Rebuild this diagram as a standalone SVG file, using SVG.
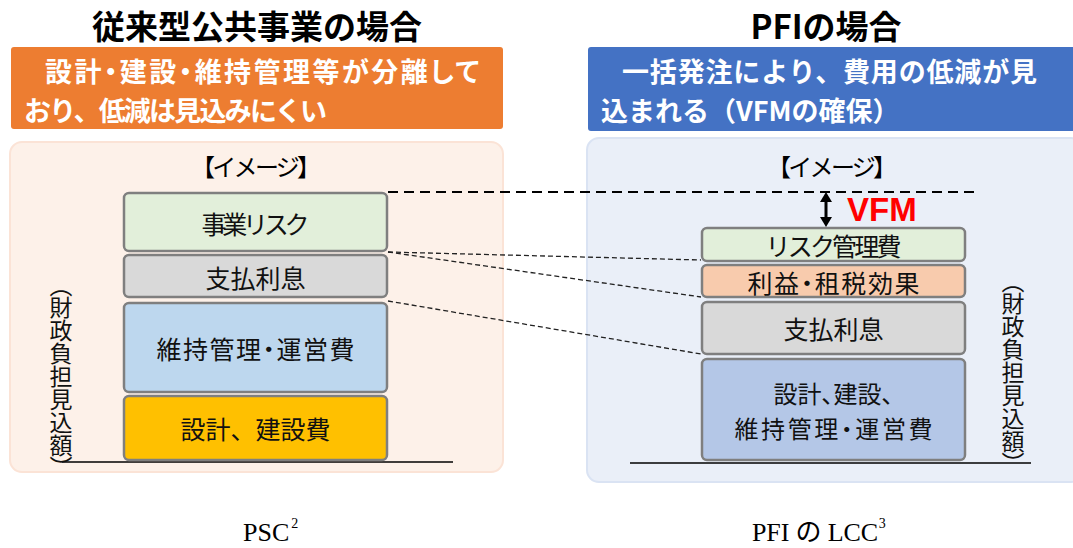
<svg xmlns="http://www.w3.org/2000/svg" width="1073" height="548" viewBox="0 0 1073 548">
  <style>
    .title { font-family: "Noto Sans CJK JP", sans-serif; font-size: 33px; font-weight: 700; fill: #000; }
    .head { font-family: "Noto Sans CJK JP", sans-serif; font-size: 27px; font-weight: 700; fill: #fff; }
    .img { font-family: "Noto Sans CJK JP", sans-serif; font-size: 24px; fill: #000; }
    .lbl { font-family: "Noto Sans CJK JP", sans-serif; font-size: 25px; fill: #111; }
    .palt { font-feature-settings: "palt"; }
    .vert { font-family: "Noto Sans CJK JP", sans-serif; font-size: 23px; fill: #111; writing-mode: vertical-rl; font-feature-settings: "vpal"; }
    .cap { font-family: "Liberation Serif", "Noto Sans CJK JP", serif; font-size: 26px; fill: #000; }
    .sup { font-size: 14px; }
    .box { stroke: #7F7F7F; stroke-width: 2.5; }
    .base { stroke: #000; stroke-width: 1.5; }
    .thin { stroke: #222; stroke-width: 1.3; stroke-dasharray: 5 3; fill: none; }
    .thick { stroke: #000; stroke-width: 2; stroke-dasharray: 10 6; fill: none; }
  </style>
  <defs>
    <marker id="ah" viewBox="0 0 10 12" refX="0" refY="6" markerWidth="10" markerHeight="12" markerUnits="userSpaceOnUse" orient="auto-start-reverse">
      <path d="M0,0 L10,6 L0,12 z" fill="#000"/>
    </marker>
  </defs>
  <rect width="1073" height="548" fill="#fff"/>

  <!-- Left side -->
  <g id="left-title">
    <text class="title" x="257" y="25" text-anchor="middle" dominant-baseline="central">従来型公共事業の場合</text>
  </g>
  <g id="left-header">
    <rect x="11" y="47" width="492" height="82" rx="3" fill="#ED7D31"/>
    <text class="head palt" x="45" y="70" dominant-baseline="central" textLength="434">設計・建設・維持管理等が分離して</text>
    <text class="head" x="24" y="109.5" dominant-baseline="central" textLength="303">おり、低減は見込みにくい</text>
  </g>
  <g id="left-panel">
    <rect x="10" y="142" width="493" height="330" rx="12" fill="#FDF1E9" stroke="#FBE3D6" stroke-width="2"/>
    <text class="img" x="256" y="165" text-anchor="middle" dominant-baseline="central" textLength="130">【イメージ】</text>
  </g>
  <g id="left-axis">
    <line class="base" x1="62" y1="462" x2="453" y2="462"/>
    <text class="vert" x="61" y="376" text-anchor="middle">（財政負担見込額）</text>
  </g>
  <g id="psc-risk">
    <rect class="box" x="124" y="193" width="263" height="58" rx="5" fill="#E2EFDA"/>
    <text class="lbl" x="255.5" y="223" text-anchor="middle" dominant-baseline="central" textLength="108">事業リスク</text>
  </g>
  <g id="psc-interest">
    <rect class="box" x="124" y="255" width="263" height="42" rx="5" fill="#D9D9D9"/>
    <text class="lbl" x="255.5" y="277" text-anchor="middle" dominant-baseline="central">支払利息</text>
  </g>
  <g id="psc-om">
    <rect class="box" x="124" y="303" width="263" height="89" rx="5" fill="#BDD7EE"/>
    <text class="lbl palt" x="255.5" y="348" text-anchor="middle" dominant-baseline="central" textLength="198">維持管理・運営費</text>
  </g>
  <g id="psc-build">
    <rect class="box" x="124" y="396" width="263" height="64" rx="5" fill="#FFC000"/>
    <text class="lbl" x="255.5" y="428" text-anchor="middle" dominant-baseline="central">設計、建設費</text>
  </g>
  <g id="psc-caption">
    <text class="cap" x="243" y="541">PSC<tspan class="sup" dx="2" dy="-13">2</tspan></text>
  </g>

  <!-- Right side -->
  <g id="right-title">
    <text class="title" x="826" y="25" text-anchor="middle" dominant-baseline="central">PFIの場合</text>
  </g>
  <g id="right-header">
    <rect x="588" y="47" width="495" height="84" rx="3" fill="#4472C4"/>
    <text class="head" x="622" y="70" dominant-baseline="central" textLength="415">一括発注により、費用の低減が見</text>
    <text class="head" x="601" y="109.5" dominant-baseline="central">込まれる（VFMの確保）</text>
  </g>
  <g id="right-panel">
    <rect x="587" y="138" width="496" height="344" rx="12" fill="#EAEFF8" stroke="#DAE3F3" stroke-width="2"/>
    <text class="img" x="832" y="165" text-anchor="middle" dominant-baseline="central" textLength="130">【イメージ】</text>
  </g>
  <g id="right-axis">
    <line class="base" x1="630" y1="463" x2="1031" y2="463"/>
    <text class="vert" x="1013" y="372" text-anchor="middle">（財政負担見込額）</text>
  </g>
  <g id="pfi-risk">
    <rect class="box" x="702" y="228" width="263" height="33" rx="5" fill="#E2EFDA"/>
    <text class="lbl" x="833.5" y="245" text-anchor="middle" dominant-baseline="central" textLength="136">リスク管理費</text>
  </g>
  <g id="pfi-profit">
    <rect class="box" x="702" y="265" width="263" height="32" rx="5" fill="#F8CBAD"/>
    <text class="lbl palt" x="833.5" y="282" text-anchor="middle" dominant-baseline="central" textLength="172">利益・租税効果</text>
  </g>
  <g id="pfi-interest">
    <rect class="box" x="702" y="302" width="263" height="52" rx="5" fill="#D9D9D9"/>
    <text class="lbl" x="833.5" y="328" text-anchor="middle" dominant-baseline="central">支払利息</text>
  </g>
  <g id="pfi-all">
    <rect class="box" x="702" y="359" width="263" height="101" rx="5" fill="#B4C7E7"/>
    <text class="lbl palt" text-anchor="middle" dominant-baseline="central" style="font-size:24px"><tspan x="833.5" y="392">設計、建設、</tspan><tspan x="833.5" y="427" textLength="198">維持管理・運営費</tspan></text>
  </g>
  <g id="vfm">
    <text x="847" y="221" font-family="Liberation Sans, Arial, sans-serif" font-size="33" font-weight="700" fill="#FF0000">VFM</text>
  </g>
  <g id="pfi-caption">
    <text class="cap" x="752" y="541"><tspan textLength="126">PFI の LCC</tspan><tspan class="sup" dx="1" dy="-13">3</tspan></text>
  </g>

  <!-- Connectors -->
  <g id="connectors">
    <line class="thick" x1="388" y1="192" x2="976" y2="192"/>
    <line class="thin" x1="388" y1="252" x2="701" y2="260"/>
    <line class="thin" x1="388" y1="252" x2="701" y2="297"/>
    <line class="thin" x1="388" y1="301" x2="701" y2="354"/>
    <path d="M826,202 L826,217" stroke="#000" stroke-width="3" fill="none" marker-start="url(#ah)" marker-end="url(#ah)"/>
  </g>
</svg>
